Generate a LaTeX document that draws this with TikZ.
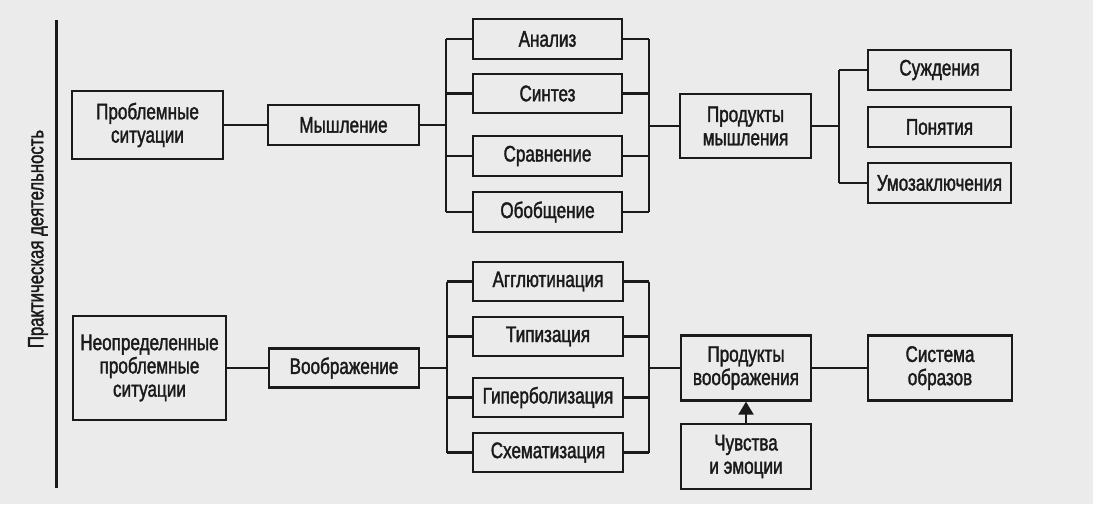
\documentclass[tikz,border=0pt]{standalone}
\usepackage{fontspec}
\setmainfont{Liberation Sans}[FakeStretch=0.76,FakeBold=1.6]
\usetikzlibrary{arrows.meta}
\definecolor{paper}{HTML}{EBEBEB}
\definecolor{ink}{HTML}{1A1A1A}
\begin{document}
\begin{tikzpicture}[x=1pt,y=-1pt,
  line width=2.3pt, draw=ink,
  box/.style={draw=ink, line width=2.3pt, rectangle, inner sep=0pt, align=center,
    text=ink, font=\fontsize{22.5}{23.3}\selectfont},
  conn/.style={draw=ink, line width=2.3pt},
  lbl/.style={text=ink, font=\fontsize{22}{23.3}\selectfont}]
\fill[paper] (0,0) rectangle (1093,504);
\useasboundingbox (0,0) rectangle (1093,504);

% left axis and label
\coordinate (axT) at (56.5,20);
\coordinate (axB) at (56.5,488);
\draw[conn] (axT) -- (axB);
\node[lbl, rotate=90] (prakt) at (38,239) {Практическая деятельность};

% ---- upper part: thinking ----
\node[box, minimum width=151pt, minimum height=68pt] (ps) at (147.5,125) {Проблемные\\ситуации};
\node[box, minimum width=151pt, minimum height=40pt] (mysh) at (343.5,125) {Мышление};
\node[box, minimum width=149pt, minimum height=40pt] (an) at (547.5,39) {Анализ};
\node[box, minimum width=149pt, minimum height=39pt] (sin) at (547.5,93.5) {Синтез};
\node[box, minimum width=149pt, minimum height=40pt] (srav) at (547.5,156) {Сравнение};
\node[box, minimum width=149pt, minimum height=40pt] (obob) at (547.5,212) {Обобщение};
\node[box, minimum width=131pt, minimum height=64pt] (pm) at (745.5,126) {Продукты\\мышления};
\node[box, minimum width=143pt, minimum height=40pt] (sud) at (939.5,70) {Суждения};
\node[box, minimum width=143pt, minimum height=40pt] (pon) at (939.5,127) {Понятия};
\node[box, minimum width=143pt, minimum height=40pt] (umo) at (939.5,183) {Умозаключения};

\coordinate (bL1) at (446,125);
\coordinate (bR1) at (649,126);
\coordinate (bR2) at (839,126);

\draw[conn] (ps) -- (mysh);
\draw[conn] (mysh.east) -- (bL1);
\draw[conn] (an.west -| bL1) -- (obob.west -| bL1);
\foreach \n in {an,sin,srav,obob}{
  \draw[conn] (\n.west) -- (\n.west -| bL1);
  \draw[conn] (\n.east) -- (\n.east -| bR1);
}
\draw[conn] (an.east -| bR1) -- (obob.east -| bR1);
\draw[conn] (bR1) -- (pm.west);
\draw[conn] (pm.east) -- (bR2);
\draw[conn] (sud.west -| bR2) -- (umo.west -| bR2);
\draw[conn] (sud.west) -- (sud.west -| bR2);
\draw[conn] (umo.west) -- (umo.west -| bR2);

% ---- lower part: imagination ----
\node[box, minimum width=153pt, minimum height=104pt] (nps) at (149.5,368) {Неопределенные\\проблемные\\ситуации};
\node[box, minimum width=150pt, minimum height=39pt] (voob) at (344,368) {Воображение};
\node[box, minimum width=150pt, minimum height=39pt] (agg) at (548,281.5) {Агглютинация};
\node[box, minimum width=150pt, minimum height=39pt] (tip) at (548,336.5) {Типизация};
\node[box, minimum width=150pt, minimum height=39pt] (gip) at (548,397.5) {Гиперболизация};
\node[box, minimum width=150pt, minimum height=39pt] (sxem) at (548,452.5) {Схематизация};
\node[box, minimum width=130pt, minimum height=65pt] (pv) at (746,368) {Продукты\\воображения};
\node[box, minimum width=144pt, minimum height=65pt] (sys) at (940,368) {Система\\образов};
\node[box, minimum width=130pt, minimum height=65pt] (chuv) at (746,456.5) {Чувства\\и эмоции};

\coordinate (bL2) at (447,368);
\coordinate (bR3) at (649,368);

\draw[conn] (nps) -- (voob);
\draw[conn] (voob.east) -- (bL2);
\draw[conn] (agg.west -| bL2) -- (sxem.west -| bL2);
\foreach \n in {agg,tip,gip,sxem}{
  \draw[conn] (\n.west) -- (\n.west -| bL2);
  \draw[conn] (\n.east) -- (\n.east -| bR3);
}
\draw[conn] (agg.east -| bR3) -- (sxem.east -| bR3);
\draw[conn] (bR3) -- (pv.west);
\draw[conn] (pv) -- (sys);
\draw[conn, -{Triangle[width=15pt,length=13pt]}] (chuv.north) -- (pv.south);
\end{tikzpicture}
\end{document}
